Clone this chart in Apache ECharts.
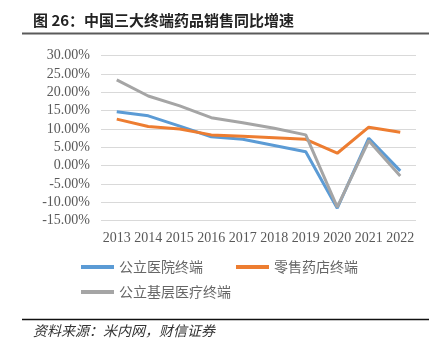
<!DOCTYPE html>
<html>
<head>
<meta charset="utf-8">
<script src="https://cdn.jsdelivr.net/npm/echarts@6/dist/echarts.min.js"></script>
<style>
  html, body { margin: 0; padding: 0; background: #fff; }
  #chart { width: 445px; height: 354px; }
</style>
</head>
<body>
<div id="chart"></div>
<script>
// 年份
var years = ['2013', '2014', '2015', '2016', '2017', '2018', '2019', '2020', '2021', '2022'];
// 同比增速 (%)
var hospital = [14.7, 13.6, 10.8, 7.9, 7.2, 5.5, 3.8, -11.6, 7.5, -1.4];   // 公立医院终端
var retail = [12.7, 10.7, 10.0, 8.4, 8.0, 7.6, 7.2, 3.4, 10.5, 9.1];       // 零售药店终端
var primary = [23.4, 19.0, 16.3, 13.1, 11.7, 10.2, 8.4, -11.3, 6.8, -2.8]; // 公立基层医疗终端
var seriesNames = ['公立医院终端', '零售药店终端', '公立基层医疗终端'];
var colors = ['#5B9BD5', '#ED7D31', '#A5A5A5'];

function initChart() {
    var myChart = echarts.init(document.getElementById('chart'));
    var cjk = '"Noto Sans CJK SC", sans-serif';
    var serif = '"Liberation Serif", "DejaVu Serif", serif';

    function lineSeries(name, data, color) {
        return {
            name: name,
            type: 'line',
            data: data,
            symbol: 'none',
            lineStyle: { width: 3, color: color },
            itemStyle: { color: color }
        };
    }

    var option = {
        animation: false,
        backgroundColor: '#fff',
        grid: { left: 101, right: 29, top: 55.7, bottom: 133.3 },
        legend: [
            {
                data: [seriesNames[0], seriesNames[1]],
                left: 81, top: 260, padding: 0,
                icon: 'rect', itemWidth: 33, itemHeight: 4,
                itemGap: 33, itemTextGap: 4,
                textStyle: { fontFamily: cjk, fontSize: 14, color: '#666' }
            },
            {
                data: [seriesNames[2]],
                left: 81, top: 285, padding: 0,
                icon: 'rect', itemWidth: 33, itemHeight: 4,
                itemTextGap: 4,
                textStyle: { fontFamily: cjk, fontSize: 14, color: '#666' }
            }
        ],
        xAxis: {
            type: 'category',
            data: years,
            boundaryGap: true,
            axisLine: { show: false },
            axisTick: { show: false },
            axisLabel: { interval: 0, margin: 11, fontFamily: serif, fontSize: 14, color: '#595959' }
        },
        yAxis: {
            type: 'value',
            min: -15, max: 30, interval: 5,
            axisLine: { show: false },
            axisTick: { show: false },
            splitLine: { lineStyle: { color: '#D9D9D9', width: 1 } },
            axisLabel: {
                margin: 11,
                fontFamily: serif, fontSize: 14, color: '#595959',
                formatter: function (v) { return v.toFixed(2) + '%'; }
            }
        },
        series: [
            lineSeries(seriesNames[0], hospital, colors[0]),
            lineSeries(seriesNames[1], retail, colors[1]),
            lineSeries(seriesNames[2], primary, colors[2])
        ],
        graphic: [
            {
                type: 'text', left: 33, top: 13,
                style: { text: '图 26：中国三大终端药品销售同比增速', font: 'bold 15px ' + cjk, fill: '#222' }
            },
            {
                type: 'line', shape: { x1: 22, y1: 33.5, x2: 429, y2: 33.5 },
                style: { stroke: '#5a5a5a', lineWidth: 2 }
            },
            {
                type: 'line', shape: { x1: 22, y1: 319.5, x2: 429, y2: 319.5 },
                style: { stroke: '#111', lineWidth: 1.3 }
            },
            {
                type: 'text', left: 33, top: 324,
                style: { text: '资料来源：米内网，财信证券', font: 'italic 14px ' + cjk, fill: '#333' }
            }
        ]
    };

    myChart.setOption(option);
}

window.addEventListener('load', initChart);
</script>
</body>
</html>
